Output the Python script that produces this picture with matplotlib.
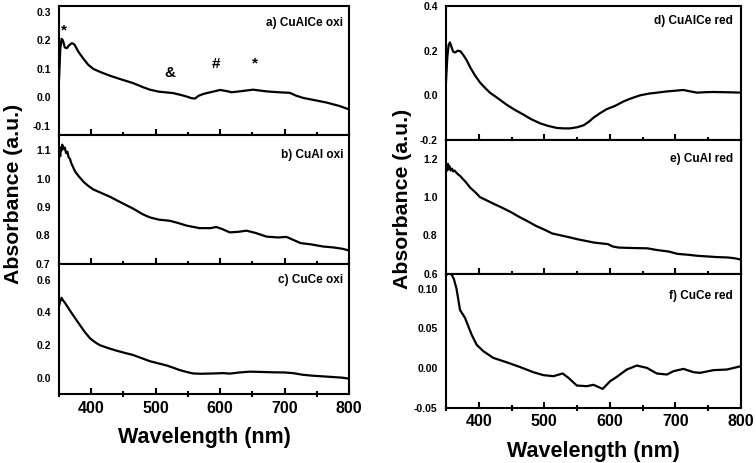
import matplotlib
matplotlib.use("Agg")
import matplotlib.pyplot as plt
from matplotlib.ticker import MultipleLocator, FormatStrFormatter

plt.rcParams['font.family'] = ['Liberation Sans', 'DejaVu Sans']
plt.rcParams['font.weight'] = 'bold'

# ---------------- data ----------------
a_wl = [350, 352, 354, 356, 359, 362, 366, 370, 374, 380, 388, 395, 403, 415, 429, 445, 465, 480, 491,
        505, 527, 540, 548, 556, 561, 567, 574, 585, 600, 610, 618, 630, 651, 672, 690, 708, 718, 729,
        745, 765, 785, 800]
a_abs = [0.06, 0.17, 0.205, 0.20, 0.175, 0.172, 0.183, 0.19, 0.185, 0.16, 0.135, 0.115, 0.10, 0.088,
         0.076, 0.064, 0.05, 0.036, 0.027, 0.02, 0.015, 0.008, 0.003, -0.003, -0.004, 0.006, 0.012,
         0.018, 0.026, 0.022, 0.018, 0.021, 0.027, 0.021, 0.018, 0.016, 0.006, -0.002, -0.009, -0.018,
         -0.03, -0.042]

b_wl = [350, 351, 352, 353, 354, 355, 357, 359, 361, 363, 365, 367, 369, 372, 375, 380, 388, 395, 403,
        415, 429, 445, 465, 480, 491, 505, 522, 535, 548, 568, 585, 594, 603, 615, 628, 641, 655, 672,
        690, 703, 712, 725, 740, 760, 775, 790, 800]
b_abs = [1.07, 1.09, 1.08, 1.11, 1.10, 1.12, 1.105, 1.11, 1.09, 1.095, 1.075, 1.07, 1.055, 1.04, 1.025,
         1.01, 0.989, 0.975, 0.962, 0.95, 0.936, 0.917, 0.894, 0.874, 0.863, 0.855, 0.851, 0.843, 0.834,
         0.825, 0.825, 0.829, 0.822, 0.81, 0.812, 0.816, 0.808, 0.795, 0.792, 0.794, 0.785, 0.772, 0.768,
         0.76, 0.757, 0.752, 0.746]

c_wl = [350, 352, 354, 356, 359, 364, 369, 375, 382, 390, 398, 405, 413, 425, 439, 452, 465, 478, 491,
        505, 517, 528, 537, 548, 558, 570, 590, 605, 615, 630, 646, 665, 682, 700, 713, 728, 744, 760,
        775, 790, 800]
c_abs = [0.44, 0.47, 0.49, 0.475, 0.46, 0.43, 0.40, 0.365, 0.325, 0.28, 0.242, 0.22, 0.20, 0.183, 0.166,
         0.152, 0.139, 0.12, 0.101, 0.087, 0.075, 0.06, 0.047, 0.035, 0.026, 0.024, 0.026, 0.028, 0.025,
         0.032, 0.037, 0.035, 0.033, 0.032, 0.028, 0.018, 0.012, 0.008, 0.004, 0.0, -0.006]

d_wl = [350, 352, 354, 356, 358, 361, 364, 368, 372, 376, 381, 387, 394, 402, 410, 417, 430, 442, 455,
        468, 480, 494, 506, 519, 530, 539, 550, 560, 568, 575, 585, 595, 608, 621, 633, 646, 660, 672,
        685, 697, 712, 722, 733, 745, 758, 775, 790, 800]
d_abs = [0.06, 0.17, 0.225, 0.237, 0.22, 0.195, 0.192, 0.20, 0.197, 0.182, 0.16, 0.125, 0.09, 0.057,
         0.032, 0.012, -0.015, -0.041, -0.065, -0.086, -0.107, -0.126, -0.137, -0.146, -0.148, -0.148,
         -0.143, -0.134, -0.118, -0.10, -0.08, -0.062, -0.047, -0.027, -0.013, 0.0, 0.008, 0.012, 0.017,
         0.02, 0.024, 0.018, 0.012, 0.014, 0.015, 0.014, 0.013, 0.012]

e_wl = [350, 351, 352, 353, 354, 355, 357, 359, 361, 363, 366, 369, 372, 375, 380, 387, 395, 402, 410,
        420, 435, 450, 461, 474, 487, 500, 512, 525, 538, 550, 563, 576, 589, 597, 604, 613, 630, 657,
        672, 690, 703, 720, 733, 755, 764, 780, 790, 800]
e_abs = [1.148, 1.16, 1.14, 1.175, 1.15, 1.165, 1.14, 1.15, 1.135, 1.14, 1.128, 1.118, 1.11, 1.098, 1.08,
         1.05, 1.025, 1.0, 0.987, 0.97, 0.946, 0.92, 0.898, 0.875, 0.85, 0.83, 0.81, 0.80, 0.79, 0.78,
         0.771, 0.762, 0.757, 0.754, 0.742, 0.736, 0.734, 0.732, 0.723, 0.715, 0.703, 0.698, 0.693, 0.688,
         0.686, 0.684, 0.68, 0.673]

f_wl = [350, 352, 356, 359, 362, 366, 369, 371.4, 379, 389, 396.8, 407, 422, 442.6, 463, 483.3, 498.6,
        513.9, 528, 536.8, 549.5, 564.8, 575, 589, 600.4, 610.6, 625.8, 641, 656.4, 671.6, 687, 697,
        712.3, 727.6, 737.8, 758, 778.5, 800]
f_abs = [0.116, 0.119, 0.119, 0.117, 0.112, 0.10, 0.085, 0.073, 0.063, 0.042, 0.029, 0.021, 0.0126,
         0.007, 0.001, -0.0055, -0.0092, -0.0105, -0.0071, -0.0126, -0.0223, -0.0231, -0.0214, -0.0265,
         -0.0168, -0.0113, -0.0021, 0.0029, 0.0, -0.0071, -0.0084, -0.0042, -0.0013, -0.0055, -0.0063,
         -0.0029, -0.0021, 0.0021]

panel_labels = ["a) CuAlCe oxi", "b) CuAl oxi", "c) CuCe oxi",
                "d) CuAlCe red", "e) CuAl red", "f) CuCe red"]
x_ticks = [400, 500, 600, 700, 800]

# annotations in panel a: (symbol, wavelength, absorbance)
marks_sym = ["*", "&", "#", "*"]
marks_wl = [358, 522, 594, 654]
marks_abs = [0.236, 0.084, 0.117, 0.117]

# ---------------- figure ----------------
W, H = 756, 463
fig = plt.figure(figsize=(W / 100, H / 100), dpi=100)


def px_axes(x0, x1, ytop, ybot):
    return fig.add_axes([x0 / W, 1 - ybot / H, (x1 - x0) / W, (ybot - ytop) / H])


specs = [
    # (wl, abs, ylim, yticks, fmt, box, label_y, label_x, bottom)
    (a_wl, a_abs, (-0.13, 0.32), [-0.1, 0.0, 0.1, 0.2, 0.3], '%.1f', (59, 349, 6, 134.5), 0.87, 0.98, False),
    (b_wl, b_abs, (0.7, 1.156), [0.7, 0.8, 0.9, 1.0, 1.1], '%.1f', (59, 349, 134.5, 263.5), 0.84, 0.98, False),
    (c_wl, c_abs, (-0.1, 0.7), [0.0, 0.2, 0.4, 0.6], '%.1f', (59, 349, 263.5, 394), 0.875, 0.98, True),
    (d_wl, d_abs, (-0.2, 0.4), [-0.2, 0.0, 0.2, 0.4], '%.1f', (446, 741, 6, 140), 0.89, 0.973, False),
    (e_wl, e_abs, (0.6, 1.3), [0.6, 0.8, 1.0, 1.2], '%.1f', (446, 741, 140, 273.5), 0.855, 0.973, False),
    (f_wl, f_abs, (-0.05, 0.119), [-0.05, 0.0, 0.05, 0.10], '%.2f', (446, 741, 273.5, 407.5), 0.832, 0.973, True),
]

axes = []
for i, (wl, ab, yl, yt, fmt, box, ly, lx, bottom) in enumerate(specs):
    ax = px_axes(*box)
    ax.plot(wl, ab, color='black', lw=1.6)
    ax.set_xlim(350, 800)
    ax.set_ylim(*yl)
    ax.set_yticks(yt)
    ax.yaxis.set_major_formatter(FormatStrFormatter(fmt))
    ax.set_xticks(x_ticks)
    ax.xaxis.set_minor_locator(MultipleLocator(50))
    for s in ax.spines.values():
        s.set_linewidth(1.5)
    ax.tick_params(axis='y', length=0, pad=6, labelsize=7.5)
    ax.tick_params(axis='x', which='major', direction='in', length=4, width=1.5, top=False)
    ax.tick_params(axis='x', which='minor', direction='inout', length=4, width=1.5, top=False)
    if bottom:
        ax.tick_params(axis='x', which='major', labelsize=11.5, pad=5)
        ax.set_xticklabels([str(t) for t in x_ticks], fontweight='bold')
        ax.set_xlabel("Wavelength (nm)", fontsize=15.5, fontweight='bold', labelpad=8)
    else:
        ax.tick_params(axis='x', labelbottom=False)
    for lab in ax.get_yticklabels():
        lab.set_fontweight('bold')
    ax.text(lx, ly, panel_labels[i], transform=ax.transAxes, ha='right', va='center',
            fontsize=8.5, fontweight='bold')
    axes.append(ax)

for s, w, v in zip(marks_sym, marks_wl, marks_abs):
    axes[0].text(w, v, s, ha='center', va='center', fontsize=11, fontweight='bold')

fig.text(14 / W, 1 - 194 / H, "Absorbance (a.u.)", rotation=90, ha='center', va='center',
         fontsize=15.3, fontweight='bold')
fig.text(403 / W, 1 - 199 / H, "Absorbance (a.u.)", rotation=90, ha='center', va='center',
         fontsize=15.3, fontweight='bold')

fig.savefig("out.png", dpi=100)
